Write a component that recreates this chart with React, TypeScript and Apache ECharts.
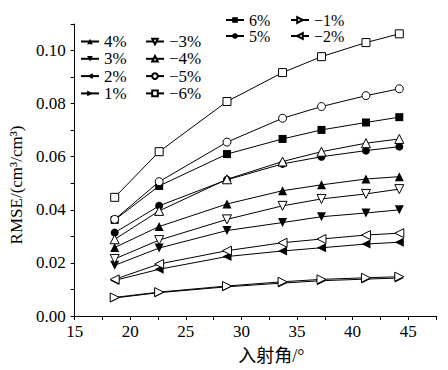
import React, { useEffect, useRef } from 'react';
import * as echarts from 'echarts';

const angles = [18.6, 22.6, 28.7, 33.7, 37.2, 41.2, 44.2];

const pos1 = [0.0068, 0.0088, 0.0110, 0.0124, 0.0133, 0.0139, 0.0143];
const pos2 = [0.0134, 0.0176, 0.0224, 0.0245, 0.0257, 0.0271, 0.0278];
const pos3 = [0.0191, 0.0256, 0.0322, 0.0352, 0.0374, 0.0388, 0.0400];
const pos4 = [0.0258, 0.0337, 0.0422, 0.0472, 0.0494, 0.0516, 0.0525];
const pos5 = [0.0314, 0.0415, 0.0513, 0.0573, 0.0600, 0.0623, 0.0638];
const pos6 = [0.0362, 0.0490, 0.0610, 0.0667, 0.0701, 0.0729, 0.0749];
const neg1 = [0.0070, 0.0090, 0.0113, 0.0129, 0.0138, 0.0144, 0.0148];
const neg2 = [0.0138, 0.0196, 0.0246, 0.0276, 0.0290, 0.0305, 0.0312];
const neg3 = [0.0215, 0.0286, 0.0364, 0.0415, 0.0441, 0.0460, 0.0478];
const neg4 = [0.0289, 0.0396, 0.0515, 0.0582, 0.0619, 0.0651, 0.0667];
const neg5 = [0.0364, 0.0506, 0.0655, 0.0745, 0.0789, 0.0830, 0.0856];
const neg6 = [0.0447, 0.0619, 0.0808, 0.0917, 0.0977, 0.1030, 0.1063];

const legendA = ['4%', '3%', '2%', '1%'];
const legendB = ['−3%', '−4%', '−5%', '−6%'];
const legendC = ['6%', '5%'];
const legendD = ['−1%', '−2%'];

const FONT = 'Liberation Serif, Noto Sans CJK SC, serif';

type Def = { name: string; data: number[]; symbol: string; rotate: number; filled: boolean };

const defs: Def[] = [
  { name: '1%', data: pos1, symbol: 'triangle', rotate: -90, filled: true },
  { name: '2%', data: pos2, symbol: 'triangle', rotate: 90, filled: true },
  { name: '3%', data: pos3, symbol: 'triangle', rotate: 180, filled: true },
  { name: '4%', data: pos4, symbol: 'triangle', rotate: 0, filled: true },
  { name: '5%', data: pos5, symbol: 'circle', rotate: 0, filled: true },
  { name: '6%', data: pos6, symbol: 'rect', rotate: 0, filled: true },
  { name: '−1%', data: neg1, symbol: 'triangle', rotate: -90, filled: false },
  { name: '−2%', data: neg2, symbol: 'triangle', rotate: 90, filled: false },
  { name: '−3%', data: neg3, symbol: 'triangle', rotate: 180, filled: false },
  { name: '−4%', data: neg4, symbol: 'triangle', rotate: 0, filled: false },
  { name: '−5%', data: neg5, symbol: 'circle', rotate: 0, filled: false },
  { name: '−6%', data: neg6, symbol: 'rect', rotate: 0, filled: false },
];

function makeLegend(data: string[], left: number, top: number, gap: number, fs: number) {
  return {
    data,
    left,
    top,
    orient: 'vertical',
    padding: 0,
    itemGap: gap,
    itemWidth: 18,
    itemHeight: 7,
    selectedMode: false,
    textStyle: { fontFamily: FONT, fontSize: fs, color: '#000', lineHeight: fs },
  };
}

export default function App() {
  const ref = useRef<HTMLDivElement>(null);
  useEffect(() => {
    if (!ref.current) return;
    document.body.style.margin = '0';
    const chart = echarts.init(ref.current, null, { renderer: 'svg' });
    chart.setOption({
      animation: false,
      backgroundColor: '#fff',
      legend: [
        makeLegend(legendA, 80, 33, 0.3, 17),
        makeLegend(legendB, 145, 33, 0.3, 17),
        makeLegend(legendC, 225, 12, 0, 16),
        makeLegend(legendD, 290, 12, 0, 16),
      ],
      grid: { left: 71, right: 12, top: 24, bottom: 54, containLabel: false },
      xAxis: {
        type: 'value',
        min: 15,
        max: 47.5,
        interval: 2.5,
        name: '入射角/°',
        nameLocation: 'middle',
        nameGap: 31,
        nameTextStyle: { fontFamily: FONT, fontSize: 18, color: '#000', padding: [0, 0, 0, 32] },
        axisLine: { lineStyle: { color: '#000', width: 1 } },
        axisTick: { show: true, length: 4, lineStyle: { color: '#000' } },
        axisLabel: {
          margin: 7,
          fontFamily: FONT,
          fontSize: 17,
          color: '#000',
          formatter: (v: number) => (Math.abs(v % 5) < 1e-6 ? String(v) : ''),
        },
        splitLine: { show: false },
      },
      yAxis: {
        type: 'value',
        min: 0,
        max: 0.11,
        interval: 0.01,
        name: 'RMSE/(cm³/cm³)',
        nameLocation: 'middle',
        nameRotate: 90,
        nameGap: 44,
        nameTextStyle: { fontFamily: FONT, fontSize: 17, color: '#000', padding: [0, 30, 0, 0] },
        axisLine: { show: true, lineStyle: { color: '#000', width: 1 } },
        axisTick: { show: true, length: 4, lineStyle: { color: '#000' } },
        axisLabel: {
          margin: 9,
          fontFamily: FONT,
          fontSize: 17,
          color: '#000',
          formatter: (v: number) => {
            const k = Math.round(v * 100);
            return k % 2 === 0 && k <= 10 ? v.toFixed(2) : '';
          },
        },
        splitLine: { show: false },
      },
      series: defs.map((d) => ({
        name: d.name,
        type: 'line',
        data: angles.map((a, i) => [a, d.data[i]]),
        symbol: d.symbol,
        symbolRotate: d.rotate,
        symbolSize: d.symbol === 'triangle' ? 9 : 8,
        showAllSymbol: true,
        lineStyle: { color: '#000', width: 1 },
        itemStyle: d.filled
          ? { color: '#000', borderColor: '#000', borderWidth: 0 }
          : { color: '#fff', borderColor: '#000', borderWidth: 1 },
        emphasis: { disabled: true },
      })),
    });
    return () => chart.dispose();
  }, []);
  return <div ref={ref} style={{ width: 448, height: 370 }} />;
}
